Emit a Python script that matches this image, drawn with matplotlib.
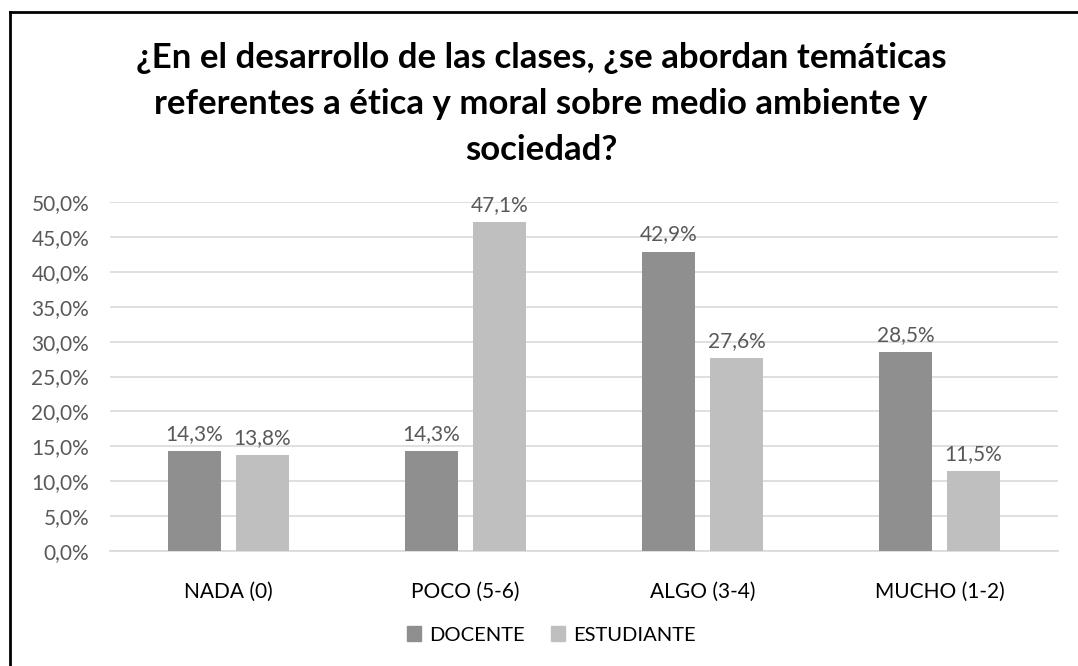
import matplotlib
matplotlib.use("Agg")
import matplotlib.pyplot as plt
import numpy as np
from matplotlib.lines import Line2D
from matplotlib.patches import Patch

plt.rcParams['font.family'] = ['Lato', 'DejaVu Sans']

categories = ["NADA (0)", "POCO (5-6)", "ALGO (3-4)", "MUCHO (1-2)"]
docente = [14.3, 14.3, 42.9, 28.5]
estudiante = [13.8, 47.1, 27.6, 11.5]
series_names = ["DOCENTE", "ESTUDIANTE"]
title = "¿En el desarrollo de las clases, ¿se abordan temáticas\nreferentes a ética y moral sobre medio ambiente y\nsociedad?"

c_doc = "#8f8f8f"
c_est = "#bfbfbf"
txt = "#595959"

W, H = 1078, 666
fig = plt.figure(figsize=(W/100, H/100), dpi=100)
ax = fig.add_axes([110/W, 1-551/H, 948/W, (551-202)/H])

x = np.arange(len(categories))
bw = 0.224
gap = 0.063
off = (bw + gap) / 2
b1 = ax.bar(x - off, docente, bw, color=c_doc, zorder=3)
b2 = ax.bar(x + off, estudiante, bw, color=c_est, zorder=3)

def fmt(v):
    return f"{v:.1f}%".replace(".", ",")

for bars, vals in ((b1, docente), (b2, estudiante)):
    for r, v in zip(bars, vals):
        ax.text(r.get_x() + r.get_width()/2, v + 1.0, fmt(v), ha="center", va="bottom",
                fontsize=15, color=txt)

ax.set_xlim(-0.5, len(categories) - 0.5)
ax.set_ylim(0, 50)
yt = np.arange(0, 50.1, 5)
ax.set_yticks(yt)
ax.set_yticklabels([fmt(v) for v in yt], fontsize=15, color=txt)
ax.set_xticks(x)
ax.set_xticklabels(categories, fontsize=15, color="#000000")
ax.grid(axis="y", color="#d9d9d9", linewidth=1.2, zorder=0)
ax.tick_params(length=0)
ax.tick_params(axis="y", pad=15)
ax.tick_params(axis="x", pad=22)
for s in ["top", "right", "left"]:
    ax.spines[s].set_visible(False)
ax.spines["bottom"].set_color("#d9d9d9")
ax.spines["bottom"].set_linewidth(1.2)

fig.text(541/W, 1-104/H, title, ha="center", va="center", fontsize=25,
         fontweight="bold", color="#000000", linespacing=1.55)

handles = [Patch(color=c_doc, label=series_names[0]), Patch(color=c_est, label=series_names[1])]
fig.legend(handles=handles, loc="center", bbox_to_anchor=(551/W, 1-635/H), ncol=2,
           frameon=False, fontsize=14.5, handlelength=0.7, handleheight=0.7,
           handletextpad=0.4, columnspacing=1.3)

# outer border (left and top only visible)
fig.add_artist(Line2D([10/W, 10/W], [0, 1-12/H], color="black", linewidth=2, transform=fig.transFigure))
fig.add_artist(Line2D([10/W, 1], [1-12/H, 1-12/H], color="black", linewidth=2, transform=fig.transFigure))

fig.savefig("out.png", dpi=100, facecolor="white")
